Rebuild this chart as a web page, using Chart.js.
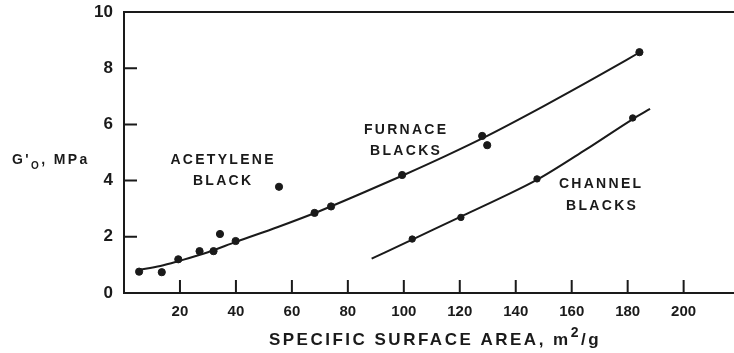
<!DOCTYPE html>
<html>
<head>
<meta charset="utf-8">
<script src="https://cdn.jsdelivr.net/npm/chart.js@4/dist/chart.umd.min.js"></script>
<style>
  html, body { margin: 0; padding: 0; background: #fff; overflow: hidden; }
  #wrap { width: 734px; height: 353px; }
</style>
</head>
<body>
<div id="wrap"><canvas id="modulus-chart"></canvas></div>
<script>
// measured points (specific surface area, m2/g  vs  G'0, MPa)
var furnaceX = [5.4, 13.5, 19.4, 27, 32, 34.3, 39.9, 55.4, 68.1, 74, 99.4, 128, 129.8, 184.2];
var furnaceY = [0.76, 0.74, 1.2, 1.49, 1.49, 2.1, 1.85, 3.78, 2.85, 3.08, 4.2, 5.59, 5.26, 8.57];
var channelX = [103, 120.4, 147.6, 181.8];
var channelY = [1.92, 2.69, 4.06, 6.23];

// drawn trend curves
var furnaceCurveX = [5, 13, 20, 30, 40, 55, 70, 85, 100, 115, 130, 150, 170, 184];
var furnaceCurveY = [0.82, 0.96, 1.15, 1.45, 1.82, 2.35, 2.92, 3.55, 4.2, 4.88, 5.6, 6.65, 7.75, 8.55];
var channelCurveX = [88.5, 103, 120, 135, 148, 165, 182, 188];
var channelCurveY = [1.22, 1.9, 2.7, 3.4, 4.05, 5.1, 6.2, 6.55];

var xTicks = [20, 40, 60, 80, 100, 120, 140, 160, 180, 200];
var yTicks = [0, 2, 4, 6, 8, 10];

var ink = "#1a1a1a";
var fontFamily = "'Liberation Sans', Arial, sans-serif";

function pairs(xs, ys) {
  return xs.map(function(x, i) { return { x: x, y: ys[i] }; });
}

// centred text with letter spacing (canvas adds spacing after the last glyph too)
function spaced(ctx, text, cx, cy, spacing) {
  ctx.letterSpacing = spacing + "px";
  var w = ctx.measureText(text).width - spacing;
  ctx.textAlign = "left";
  ctx.fillText(text, cx - w / 2, cy);
}

// inward tick marks, top frame line and the text on the plot
var figureExtras = {
  id: "figureExtras",
  afterDraw: function(chart) {
    var ctx = chart.ctx;
    var xs = chart.scales.x, ys = chart.scales.y;
    var area = chart.chartArea;
    ctx.save();
    ctx.strokeStyle = ink;
    ctx.lineWidth = 2;
    ctx.beginPath();
    ctx.moveTo(area.left - 1, area.top);
    ctx.lineTo(area.right, area.top);
    xTicks.forEach(function(v) {
      var px = xs.getPixelForValue(v);
      ctx.moveTo(px, area.bottom);
      ctx.lineTo(px, area.bottom - 13);
    });
    yTicks.slice(1, -1).forEach(function(v) {
      var py = ys.getPixelForValue(v);
      ctx.moveTo(area.left, py);
      ctx.lineTo(area.left + 13, py);
    });
    ctx.stroke();

    ctx.fillStyle = ink;
    ctx.textBaseline = "middle";
    ctx.font = "bold 14px " + fontFamily;
    var labels = [
      ["ACETYLENE", 222, 160], ["BLACK", 222, 181],
      ["FURNACE", 405, 130], ["BLACKS", 405, 151],
      ["CHANNEL", 600, 184], ["BLACKS", 601, 206]
    ];
    labels.forEach(function(l) { spaced(ctx, l[0], l[1], l[2], 2.3); });

    // y title: G'o, MPa
    ctx.textAlign = "left";
    ctx.letterSpacing = "2.4px";
    ctx.font = "bold 14px " + fontFamily;
    var x0 = 12;
    ctx.fillText("G'", x0, 160);
    x0 += ctx.measureText("G'").width;
    ctx.font = "bold 10px " + fontFamily;
    ctx.fillText("O", x0, 166);
    x0 += ctx.measureText("O").width;
    ctx.font = "bold 14px " + fontFamily;
    ctx.fillText(", MPa", x0, 160);

    // x title with superscript
    var main = "SPECIFIC SURFACE AREA, m";
    ctx.letterSpacing = "2.5px";
    ctx.font = "bold 17px " + fontFamily;
    var w1 = ctx.measureText(main).width;
    ctx.font = "bold 14px " + fontFamily;
    var w2 = ctx.measureText("2").width;
    ctx.font = "bold 17px " + fontFamily;
    var w3 = ctx.measureText("/g").width;
    var sx = 435 - (w1 + w2 + w3) / 2;
    ctx.fillText(main, sx, 340);
    ctx.font = "bold 14px " + fontFamily;
    ctx.fillText("2", sx + w1, 333);
    ctx.font = "bold 17px " + fontFamily;
    ctx.fillText("/g", sx + w1 + w2, 340);
    ctx.restore();
  }
};

var ctx = document.getElementById("modulus-chart").getContext("2d");
var chart = new Chart(ctx, {
  type: "scatter",
  data: {
    datasets: [
      {
        label: "Furnace curve",
        type: "line",
        data: pairs(furnaceCurveX, furnaceCurveY),
        borderColor: ink,
        borderWidth: 2,
        pointRadius: 0,
        cubicInterpolationMode: "monotone",
        fill: false
      },
      {
        label: "Channel curve",
        type: "line",
        data: pairs(channelCurveX, channelCurveY),
        borderColor: ink,
        borderWidth: 2,
        pointRadius: 0,
        cubicInterpolationMode: "monotone",
        fill: false
      },
      {
        label: "Acetylene / furnace blacks",
        data: pairs(furnaceX, furnaceY),
        backgroundColor: ink,
        borderColor: ink,
        pointRadius: 3.6
      },
      {
        label: "Channel blacks",
        data: pairs(channelX, channelY),
        backgroundColor: ink,
        borderColor: ink,
        pointRadius: 3.2
      }
    ]
  },
  options: {
    responsive: true,
    maintainAspectRatio: false,
    animation: false,
    layout: { autoPadding: false, padding: { top: 12, right: 0, left: 0, bottom: 0 } },
    plugins: {
      legend: { display: false },
      tooltip: { enabled: false }
    },
    scales: {
      x: {
        type: "linear",
        min: 0,
        max: 218,
        afterBuildTicks: function(scale) {
          scale.ticks = xTicks.map(function(v) { return { value: v }; });
        },
        afterFit: function(scale) {
          scale.height = 60;
          scale.paddingLeft = 0;
          scale.paddingRight = 0;
        },
        grid: { display: false, drawTicks: false, tickLength: 0 },
        border: { display: true, color: ink, width: 2 },
        ticks: {
          color: ink,
          padding: 10,
          maxRotation: 0,
          font: { family: fontFamily, size: 15, weight: "bold" }
        }
      },
      y: {
        type: "linear",
        min: 0,
        max: 10,
        afterBuildTicks: function(scale) {
          scale.ticks = yTicks.map(function(v) { return { value: v }; });
        },
        afterFit: function(scale) {
          scale.width = 124;
          scale.paddingTop = 0;
          scale.paddingBottom = 0;
        },
        grid: { display: false, drawTicks: false, tickLength: 0 },
        border: { display: true, color: ink, width: 2 },
        ticks: {
          color: ink,
          padding: 11,
          font: { family: fontFamily, size: 17, weight: "bold" }
        }
      }
    }
  },
  plugins: [figureExtras]
});
</script>
</body>
</html>
